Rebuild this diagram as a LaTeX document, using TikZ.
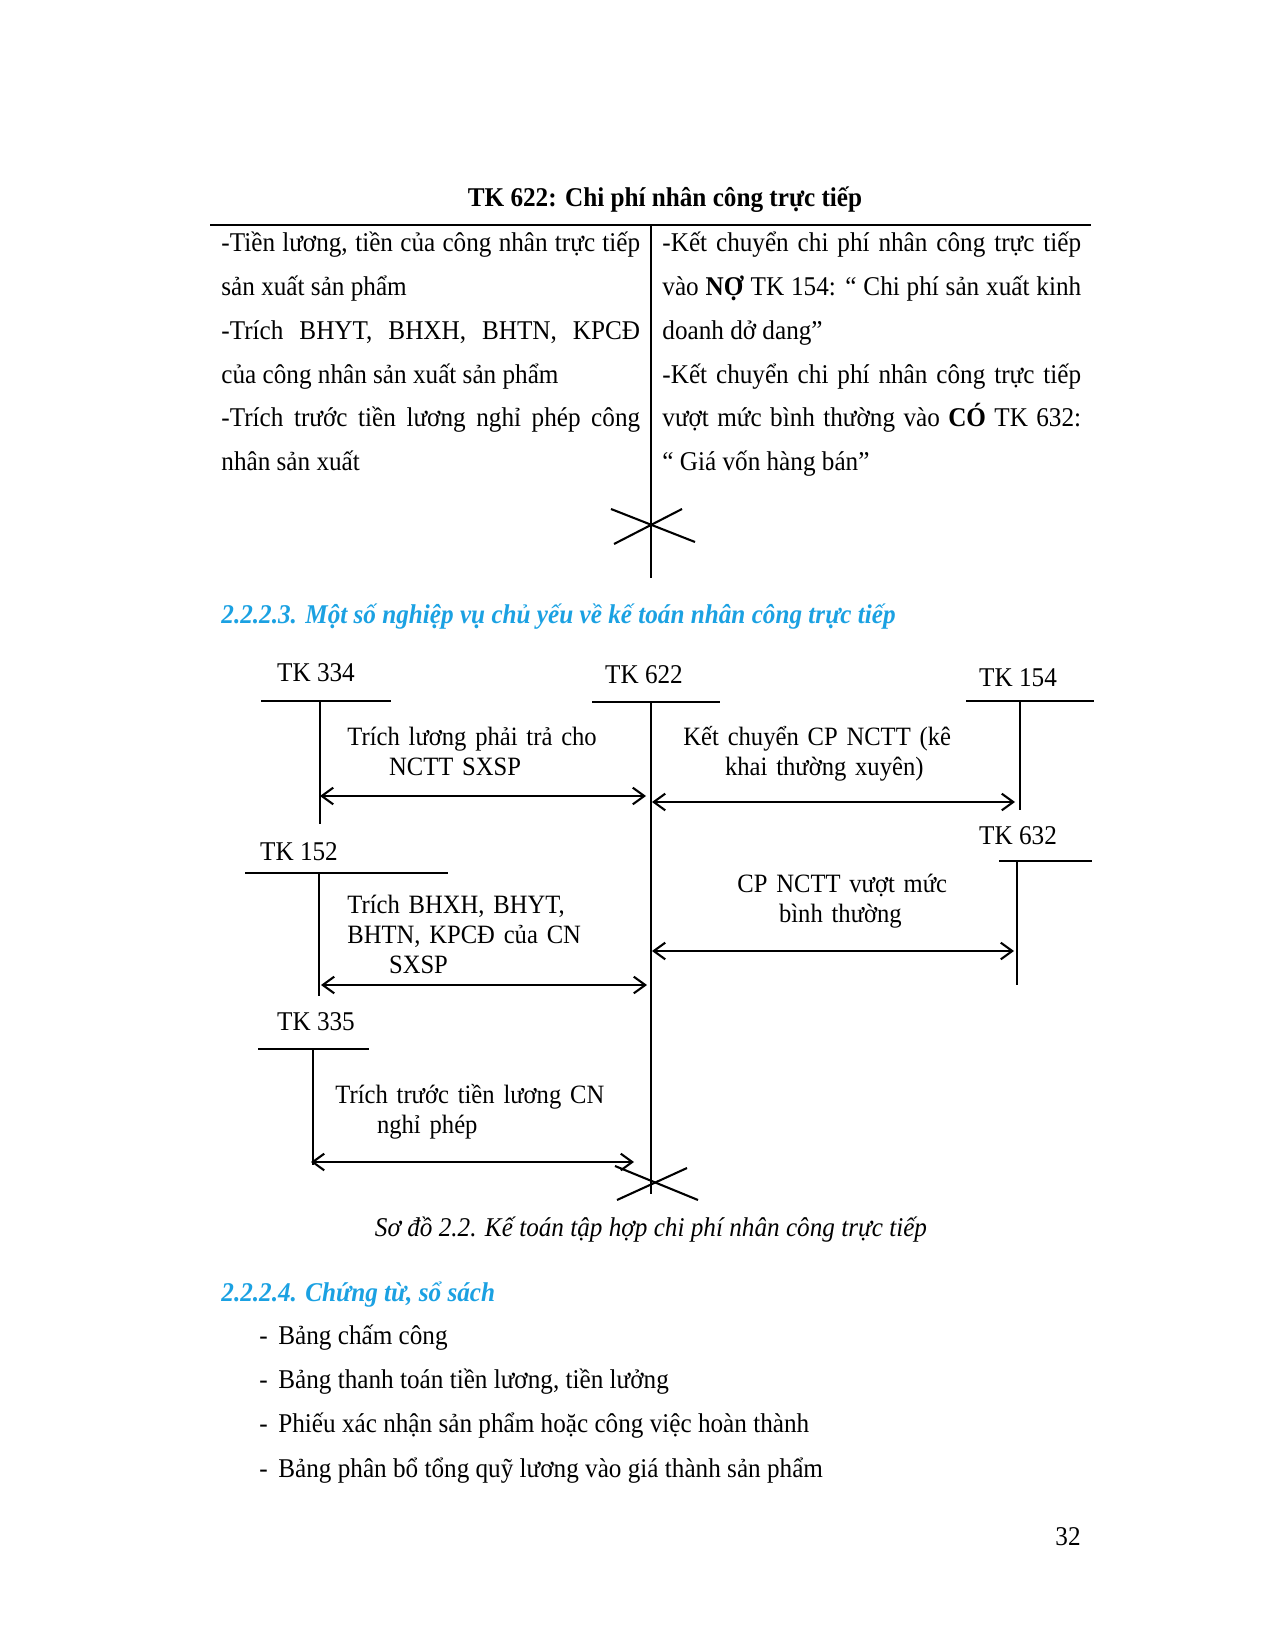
\documentclass[tikz,border=0pt]{standalone}
\usepackage{fontspec}
\setmainfont[FakeStretch=0.93]{Liberation Serif}
\usetikzlibrary{arrows.meta,calc,positioning}
\definecolor{tieuDeXanh}{HTML}{1BA1E2}
\newcommand{\lui}{\hspace*{20pt}}

\begin{document}
\begin{tikzpicture}[x=0.48pt, y=-0.48pt, every node/.style={font=\fontsize{13}{15}\selectfont, inner sep=0pt},
  thanh/.style={line width=1.4pt},
  truc/.style={line width=1pt},
  muiten/.style={{Straight Barb[length=5.5pt,width=8pt]}-{Straight Barb[length=5.5pt,width=8pt]}, line width=1pt},
  nhan/.style={anchor=base west, align=left, text width=170pt, font=\fontsize{12.7}{14.4}\selectfont},
  cot/.style={anchor=base west, align=justify, text width=201pt, font=\fontsize{13}{21}\selectfont}]
\useasboundingbox (0,0) rectangle (1275,1650);

\node[font=\fontsize{13}{15}\selectfont\bfseries, anchor=base] (tieude) at (665,207) {TK 622: Chi phí nhân công trực tiếp};
\draw[line width=1.1pt] (210,225) -- (1091,225);
\draw[line width=0.5pt] (651,225) -- (651,578);
\node[cot] (cotno) at (221,252) {-Tiền lương, tiền của công nhân trực tiếp\linebreak sản xuất sản phẩm\par
-Trích BHYT, BHXH, BHTN, KPCĐ\linebreak của công nhân sản xuất sản phẩm\par
-Trích trước tiền lương nghỉ phép công\linebreak nhân sản xuất};
\node[cot] (cotco) at (662,252) {-Kết chuyển chi phí nhân công trực tiếp\linebreak vào \textbf{NỢ} TK 154: “ Chi phí sản xuất kinh\linebreak doanh dở dang”\par
-Kết chuyển chi phí nhân công trực tiếp\linebreak vượt mức bình thường vào \textbf{CÓ} TK 632:\linebreak “ Giá vốn hàng bán”};
\draw[line width=1pt] (611,509) -- (695,542);
\draw[line width=1pt] (614,544) -- (682,509);

\node[font=\fontsize{13}{15}\selectfont\bfseries\itshape, text=tieuDeXanh, anchor=base west] (muc3) at (221,623) {2.2.2.3. Một số nghiệp vụ chủ yếu về kế toán nhân công trực tiếp};

\node[anchor=base] (tk334) at (316,681) {TK 334};
\draw[thanh] (261,701) -- (391,701);
\draw[truc] (320,701) -- (320,824);
\node[anchor=base] (tk622) at (644,683) {TK 622};
\draw[truc] (592,702) -- (720,702);
\draw[line width=0.5pt] (651,702) -- (651,1194);
\node[anchor=base] (tk154) at (1018,686) {TK 154};
\draw[thanh] (966,701) -- (1094,701);
\draw[truc] (1020,701) -- (1020,810);
\node[anchor=base] (tk152) at (299,860) {TK 152};
\draw[line width=0.8pt] (245,873) -- (448,873);
\draw[truc] (319,873) -- (319,996);
\node[anchor=base] (tk632) at (1018,844) {TK 632};
\draw[thanh] (999,861) -- (1092,861);
\draw[truc] (1017,861) -- (1017,985);
\node[anchor=base] (tk335) at (316,1030) {TK 335};
\draw[truc] (258,1049) -- (369,1049);
\draw[line width=0.6pt] (313,1049) -- (313,1165);

\coordinate (a334) at (320,796);
\coordinate (b334) at (646,796);
\coordinate (a154) at (652,802);
\coordinate (b154) at (1015,802);
\coordinate (a152) at (321,985);
\coordinate (b152) at (647,985);
\coordinate (a632) at (652,951);
\coordinate (b632) at (1014,951);
\coordinate (a335) at (311,1162);
\coordinate (b335) at (634,1162);
\draw[muiten] (a334) -- (b334);
\draw[muiten] (a154) -- (b154);
\draw[muiten] (a152) -- (b152);
\draw[muiten] (a632) -- (b632);
\draw[muiten] (a335) -- (b335);

\node[nhan] (nv334) at (347,745) {Trích lương phải trả cho\\\lui NCTT SXSP};
\node[nhan] (nv154) at (683,745) {Kết chuyển CP NCTT (kê\\\lui khai thường xuyên)};
\node[nhan] (nv152) at (347,913) {Trích BHXH, BHYT,\\BHTN, KPCĐ của CN\\\lui SXSP};
\node[nhan] (nv632) at (737,892) {CP NCTT vượt mức\\\lui bình thường};
\node[nhan] (nv335) at (335,1103) {Trích trước tiền lương CN\\\lui nghỉ phép};

\draw[line width=1pt] (615,1166) -- (698,1200);
\draw[line width=1pt] (617,1200) -- (687,1168);

\node[font=\fontsize{13}{15}\selectfont\itshape, anchor=base] (chuthich) at (651,1236) {Sơ đồ 2.2. Kế toán tập hợp chi phí nhân công trực tiếp};

\node[font=\fontsize{13}{15}\selectfont\bfseries\itshape, text=tieuDeXanh, anchor=base west] (muc4) at (221,1301) {2.2.2.4. Chứng từ, sổ sách};
\node[anchor=base west] (ct1) at (259,1344) {\makebox[9.1pt][l]{-}Bảng chấm công};
\node[anchor=base west] (ct2) at (259,1388) {\makebox[9.1pt][l]{-}Bảng thanh toán tiền lương, tiền lưởng};
\node[anchor=base west] (ct3) at (259,1432) {\makebox[9.1pt][l]{-}Phiếu xác nhận sản phẩm hoặc công việc hoàn thành};
\node[anchor=base west] (ct4) at (259,1477) {\makebox[9.1pt][l]{-}Bảng phân bổ tổng quỹ lương vào giá thành sản phẩm};

\node[anchor=base] (trang) at (1068,1545) {32};
\end{tikzpicture}
\end{document}
